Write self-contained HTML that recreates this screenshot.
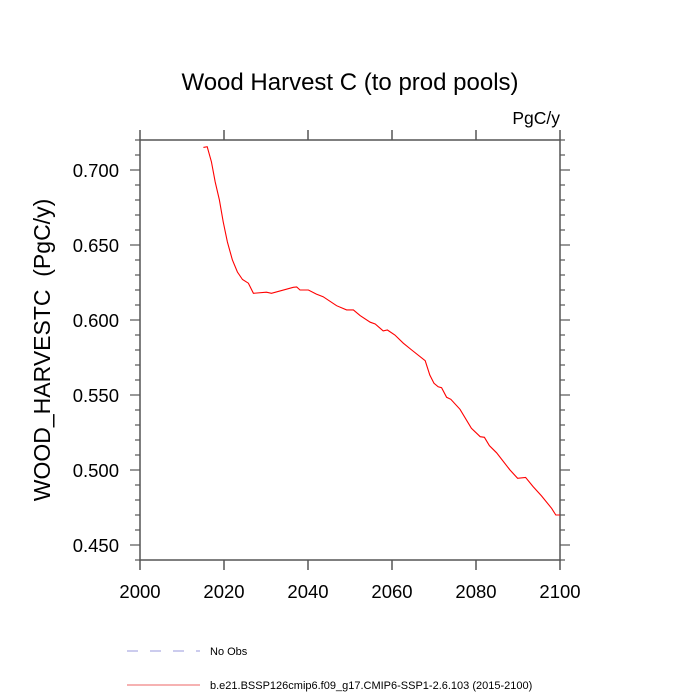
<!DOCTYPE html>
<html><head><meta charset="utf-8"><style>
body{margin:0;background:#fff}
svg{display:block;font-family:"Liberation Sans",Arial,sans-serif}
</style></head><body>
<svg id="chart" width="700" height="700" viewBox="0 0 700 700">
<rect width="700" height="700" fill="#fff"/>
<text x="350" y="90" text-anchor="middle" font-size="24">Wood Harvest C (to prod pools)</text>
<text x="560" y="124" text-anchor="end" font-size="17.5">PgC/y</text>
<text transform="translate(50,350) rotate(-90)" text-anchor="middle" font-size="23">WOOD_HARVESTC&#160;&#160;(PgC/y)</text>
<g id="axes"></g>
<g id="series"></g>
<g>
<line x1="127" y1="651" x2="200" y2="651" stroke="#9999dd" stroke-width="1" stroke-dasharray="11,12"/>
<text x="210" y="655" font-size="11">No Obs</text>
<line x1="127" y1="685" x2="200" y2="685" stroke="#ee6666" stroke-width="1"/>
<text x="210" y="689" font-size="11">b.e21.BSSP126cmip6.f09_g17.CMIP6-SSP1-2.6.103 (2015-2100)</text>
</g>
</svg>
<script>
const years=[2015.1,2016,2017,2017.9,2018.9,2019.8,2020.8,2022,2023.2,2024.4,2025.8,2027,2030.1,2031.3,2036.5,2037.3,2038.1,2040.1,2042,2043.6,2046.8,2049.2,2050.8,2052.4,2054.8,2056,2057.9,2058.9,2060.7,2062.7,2064.7,2067.9,2069,2070,2071,2071.8,2073,2074,2076.2,2078.9,2081,2082,2083.2,2084.9,2088.1,2089.9,2091.8,2093.6,2095.6,2098,2099,2100];
const values=[0.7151,0.7155,0.7055,0.692,0.680,0.6655,0.652,0.640,0.632,0.627,0.6245,0.6178,0.6185,0.6178,0.6218,0.622,0.620,0.620,0.6173,0.6155,0.6095,0.6067,0.6067,0.6029,0.5985,0.5973,0.5927,0.5933,0.590,0.5845,0.580,0.5729,0.5633,0.5578,0.5555,0.5549,0.5485,0.5471,0.5405,0.5278,0.5222,0.5218,0.5162,0.5115,0.500,0.4945,0.4951,0.4889,0.4827,0.4745,0.470,0.470];
const xTicks=[2000,2020,2040,2060,2080,2100];
const yTicks=[0.45,0.50,0.55,0.60,0.65,0.70];
const yTickLabels=["0.450","0.500","0.550","0.600","0.650","0.700"];
const NS="http://www.w3.org/2000/svg";
const L=140,R=560,T=140,B=560,X0=2000,X1=2100,Y0=0.44,Y1=0.72;
const sx=v=>L+(v-X0)/(X1-X0)*(R-L);
const sy=v=>B-(v-Y0)/(Y1-Y0)*(B-T);
const axes=document.getElementById('axes');
function mk(tag,attrs,parent){const e=document.createElementNS(NS,tag);for(const k in attrs)e.setAttribute(k,attrs[k]);parent.appendChild(e);return e;}
const ac="#555";
const frame=mk('rect',{x:L,y:T,width:R-L,height:B-T,fill:'none',stroke:ac,'stroke-width':1.5},axes);


xTicks.forEach(t=>{
  const x=sx(t);
  const b=mk('line',{x1:x,y1:B,x2:x,y2:B+10,stroke:ac,'stroke-width':1.5},axes);
  
  
  const tp=mk('line',{x1:x,y1:T,x2:x,y2:T-10,stroke:ac,'stroke-width':1.5},axes);
  
  
  const lb=mk('text',{x:x,y:B+38,'text-anchor':'middle','font-size':18.5},axes);
  lb.textContent=String(t);
  
  
});
for(let i=0;i<=28;i++){
  const v=Y0+i*0.01;const y=sy(v);
  const major=Math.abs(((v*100)%5))<0.01||Math.abs(((v*100)%5)-5)<0.01;
  const len=major?10:5;
  const l=mk('line',{x1:L,y1:y,x2:L-len,y2:y,stroke:ac,'stroke-width':1.2},axes);
  
  
  const r=mk('line',{x1:R,y1:y,x2:R+len,y2:y,stroke:ac,'stroke-width':1.2},axes);
  
  
}
yTicks.forEach((t,i)=>{
  const lb=mk('text',{x:L-21,y:sy(t)+7,'text-anchor':'end','font-size':18.5},axes);
  lb.textContent=yTickLabels[i];
  
  
});
const pts=years.map((y,i)=>sx(y).toFixed(1)+','+sy(values[i]).toFixed(1)).join(' ');
const line=mk('polyline',{points:pts,fill:'none',stroke:'#ff0000','stroke-width':1.1},document.getElementById('series'));


</script>
</body></html>
